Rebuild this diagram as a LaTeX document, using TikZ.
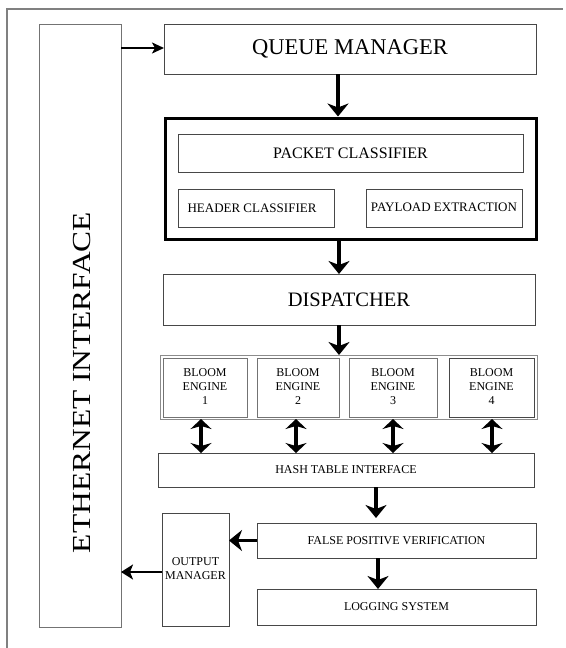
\documentclass[tikz,border=0pt]{standalone}
\usepackage{fontspec}
\setmainfont{Liberation Serif}
\usetikzlibrary{arrows.meta}
\newcommand{\fs}[1]{\fontsize{#1}{#1}\selectfont}
\newcommand{\fsl}[2]{\fontsize{#1}{#2}\selectfont}
\tikzset{
  box/.style={draw=black!72, line width=0.9pt, inner sep=0pt, outer sep=0pt, align=center},
  gbox/.style={draw=black!55, line width=0.9pt, inner sep=0pt, outer sep=0pt, align=center},
  thinarrow/.style={line width=1.8pt, -{Stealth[length=12pt,width=11pt,inset=3pt]}},
  bigarrow/.style={line width=3.6pt, -{Stealth[length=13pt,width=21pt,inset=4pt]}},
  dblarrow/.style={line width=3.6pt, {Stealth[length=10pt,width=21pt,inset=3pt]}-{Stealth[length=10pt,width=21pt,inset=3pt]}},
  midarrow/.style={line width=2.6pt, -{Stealth[length=12pt,width=15pt,inset=3pt]}}
}
\begin{document}
\begin{tikzpicture}[x=1pt,y=-1pt]
\useasboundingbox (0,0) rectangle (565,648);
% outer frame (open)
\draw[draw=black!50, line width=1.3pt] (7,648) -- (7,9) -- (563,9);
% Ethernet interface
\node[gbox, minimum width=82pt, minimum height=603pt] (eth) at (80,325.5) {};
\node[rotate=90, anchor=base, inner sep=0pt] (ethlabel) at (90.5,382.5) {\fs{26}\scalebox{1.21}[1]{ETHERNET INTERFACE}};
% Queue manager
\node[box, minimum width=372pt, minimum height=50pt] (qm) at (350,49) {\fs{22.5}QUEUE MANAGER};
% Packet classifier block
\node[draw=black, line width=3pt, inner sep=0pt, minimum width=371pt, minimum height=121pt] (pc) at (350.5,178.5) {};
\node[box, minimum width=345pt, minimum height=38pt] (pcin) at (350.5,153) {\fs{16}PACKET CLASSIFIER};
\node[box, minimum width=156pt, minimum height=38pt] (hc) at (256,208) {\fs{13}\hspace*{-8pt}HEADER CLASSIFIER};
\node[box, minimum width=156pt, minimum height=38pt] (pe) at (444,208) {\fs{13}\raisebox{2pt}{PAYLOAD EXTRACTION}};
% Dispatcher
\node[box, minimum width=372pt, minimum height=51pt] (disp) at (349,299.5) {\fs{20.5}DISPATCHER};
% Bloom engines
\node[gbox, draw=black!45, minimum width=377pt, minimum height=64pt] (bl) at (348.5,387) {};
\node[gbox, minimum width=84pt, minimum height=59pt] (e1) at (205,387.5) {\fsl{12}{14.3}\raisebox{-2pt}{\begin{tabular}{@{}c@{}}BLOOM\\ENGINE\\1\end{tabular}}};
\node[gbox, minimum width=82pt, minimum height=59pt] (e2) at (298,387.5) {\fsl{12}{14.3}\raisebox{1.5pt}{\begin{tabular}{@{}c@{}}BLOOM\\ENGINE\\2\end{tabular}}};
\node[gbox, minimum width=88pt, minimum height=59pt] (e3) at (393,387.5) {\fsl{12}{14.3}\raisebox{-2pt}{\begin{tabular}{@{}c@{}}BLOOM\\ENGINE\\3\end{tabular}}};
\node[box, minimum width=85pt, minimum height=59pt] (e4) at (491.5,387.5) {\fsl{12}{14.3}\raisebox{1.5pt}{\begin{tabular}{@{}c@{}}BLOOM\\ENGINE\\4\end{tabular}}};
% Hash table interface
\node[box, minimum width=376pt, minimum height=34pt] (ht) at (346,470) {\fs{12}HASH TABLE INTERFACE};
% False positive verification / logging
\node[box, minimum width=279pt, minimum height=35pt] (fpv) at (396.5,540.5) {\fs{12}FALSE POSITIVE VERIFICATION};
\node[box, minimum width=279pt, minimum height=36pt] (log) at (396.5,607) {\fs{12}LOGGING SYSTEM};
% Output manager
\node[box, minimum width=67pt, minimum height=113pt] (om) at (195.5,569.5) {\fsl{12}{14}\begin{tabular}{@{}c@{}}OUTPUT\\MANAGER\end{tabular}};
% connectors
\draw[thinarrow] (eth.east |- 0,48) -- (qm.west |- 0,48);
\draw[bigarrow] (qm.south -| 338,0) -- (pc.north -| 338,0);
\draw[bigarrow] (pc.south -| 339,0) -- (disp.north -| 339,0);
\draw[bigarrow] (disp.south -| 339,0) -- (bl.north -| 339,0);
\draw[dblarrow] (bl.south -| 201,0) -- (ht.north -| 201,0);
\draw[dblarrow] (bl.south -| 296,0) -- (ht.north -| 296,0);
\draw[dblarrow] (bl.south -| 393,0) -- (ht.north -| 393,0);
\draw[dblarrow] (bl.south -| 492,0) -- (ht.north -| 492,0);
\draw[bigarrow, shorten >=5pt] (ht.south -| 376,0) -- (fpv.north -| 376,0);
\draw[bigarrow] (fpv.south -| 378,0) -- (log.north -| 378,0);
\draw[bigarrow] (fpv.west) -- (om.east |- fpv.west);
\draw[midarrow] (om.west |- 0,572) -- (eth.east |- 0,572);
\end{tikzpicture}
\end{document}
